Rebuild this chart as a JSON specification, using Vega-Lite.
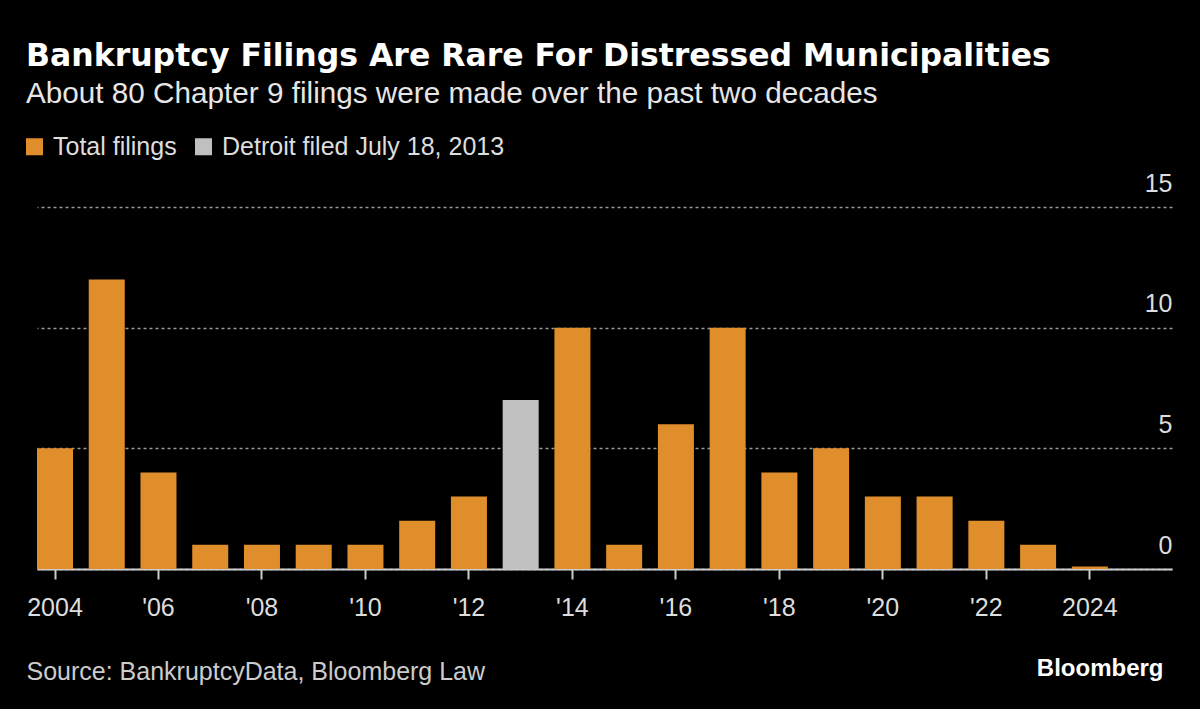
{
  "$schema": "https://vega.github.io/schema/vega-lite/v6.json",
  "width": 1135,
  "height": 362,
  "autosize": "none",
  "padding": {"left": 37, "top": 207, "right": 28, "bottom": 140},
  "background": "#000000",
  "title": {
    "text": "Bankruptcy Filings Are Rare For Distressed Municipalities",
    "subtitle": "About 80 Chapter 9 filings were made over the past two decades",
    "anchor": "start",
    "frame": "group",
    "dx": -11,
    "offset": 25,
    "font": "DejaVu Sans",
    "fontSize": 31.5,
    "fontWeight": "bold",
    "color": "#FFFFFF",
    "subtitleFont": "Liberation Sans",
    "subtitleFontSize": 29.7,
    "subtitleColor": "#E6E6E6",
    "subtitlePadding": 8
  },
  "data": {
    "values": [
      {"year": 2004, "filings": 5, "series": "Total filings"},
      {"year": 2005, "filings": 12, "series": "Total filings"},
      {"year": 2006, "filings": 4, "series": "Total filings"},
      {"year": 2007, "filings": 1, "series": "Total filings"},
      {"year": 2008, "filings": 1, "series": "Total filings"},
      {"year": 2009, "filings": 1, "series": "Total filings"},
      {"year": 2010, "filings": 1, "series": "Total filings"},
      {"year": 2011, "filings": 2, "series": "Total filings"},
      {"year": 2012, "filings": 3, "series": "Total filings"},
      {"year": 2013, "filings": 7, "series": "Detroit filed July 18, 2013"},
      {"year": 2014, "filings": 10, "series": "Total filings"},
      {"year": 2015, "filings": 1, "series": "Total filings"},
      {"year": 2016, "filings": 6, "series": "Total filings"},
      {"year": 2017, "filings": 10, "series": "Total filings"},
      {"year": 2018, "filings": 4, "series": "Total filings"},
      {"year": 2019, "filings": 5, "series": "Total filings"},
      {"year": 2020, "filings": 3, "series": "Total filings"},
      {"year": 2021, "filings": 3, "series": "Total filings"},
      {"year": 2022, "filings": 2, "series": "Total filings"},
      {"year": 2023, "filings": 1, "series": "Total filings"},
      {"year": 2024, "filings": 0.1, "series": "Total filings"}
    ]
  },
  "mark": {"type": "bar"},
  "encoding": {
    "x": {
      "field": "year",
      "type": "ordinal",
      "scale": {"paddingInner": 0.304, "paddingOuter": 0.62, "align": 0},
      "axis": {
        "values": [2004, 2006, 2008, 2010, 2012, 2014, 2016, 2018, 2020, 2022, 2024],
        "labelExpr": "datum.value == 2004 || datum.value == 2024 ? datum.value + '' : \"'\" + substring(datum.value + '', 2, 4)",
        "labelAngle": 0,
        "labelFont": "Liberation Sans",
        "labelFontSize": 25,
        "labelColor": "#DDDDDD",
        "labelBaseline": "alphabetic",
        "labelPadding": 36,
        "ticks": true,
        "tickSize": 10,
        "tickColor": "#CCCCCC",
        "tickWidth": 2,
        "domain": true,
        "domainColor": "#CCCCCC",
        "domainWidth": 2,
        "grid": false,
        "title": "Source: BankruptcyData, Bloomberg Law",
        "titleFont": "Liberation Sans",
        "titleFontSize": 25,
        "titleFontWeight": "normal",
        "titleColor": "#CCCCCC",
        "titleAlign": "left",
        "titleAnchor": "start",
        "titleBaseline": "alphabetic",
        "titleX": -11,
        "titleY": 110
      }
    },
    "y": {
      "field": "filings",
      "type": "quantitative",
      "scale": {"domain": [0, 15], "nice": false},
      "axis": {
        "orient": "right",
        "values": [0, 5, 10, 15],
        "domain": false,
        "ticks": false,
        "grid": true,
        "gridColor": "#9A9A9A",
        "gridDash": [3, 3],
        "gridWidth": 1.5,
        "labelAlign": "right",
        "labelBaseline": "alphabetic",
        "labelPadding": 0,
        "labelOffset": -16,
        "labelFont": "Liberation Sans",
        "labelFontSize": 25,
        "labelColor": "#DDDDDD",
        "title": "Bloomberg",
        "titleAngle": 0,
        "titleFont": "Liberation Sans",
        "titleFontSize": 24,
        "titleFontWeight": "bold",
        "titleColor": "#FFFFFF",
        "titleAlign": "right",
        "titleBaseline": "alphabetic",
        "titleX": -9,
        "titleY": 468
      }
    },
    "color": {
      "field": "series",
      "type": "nominal",
      "scale": {
        "domain": ["Total filings", "Detroit filed July 18, 2013"],
        "range": ["#DF8E2B", "#C0C0C0"]
      },
      "legend": {
        "orient": "none",
        "legendX": -15,
        "legendY": -73,
        "direction": "horizontal",
        "title": null,
        "symbolType": "square",
        "symbolSize": 289,
        "symbolStrokeWidth": 0,
        "symbolOpacity": 1,
        "labelFont": "Liberation Sans",
        "labelFontSize": 25,
        "labelColor": "#DDDDDD",
        "labelOffset": 6,
        "columnPadding": 14,
        "labelLimit": 400
      }
    }
  },
  "config": {
    "view": {"stroke": null}
  }
}
